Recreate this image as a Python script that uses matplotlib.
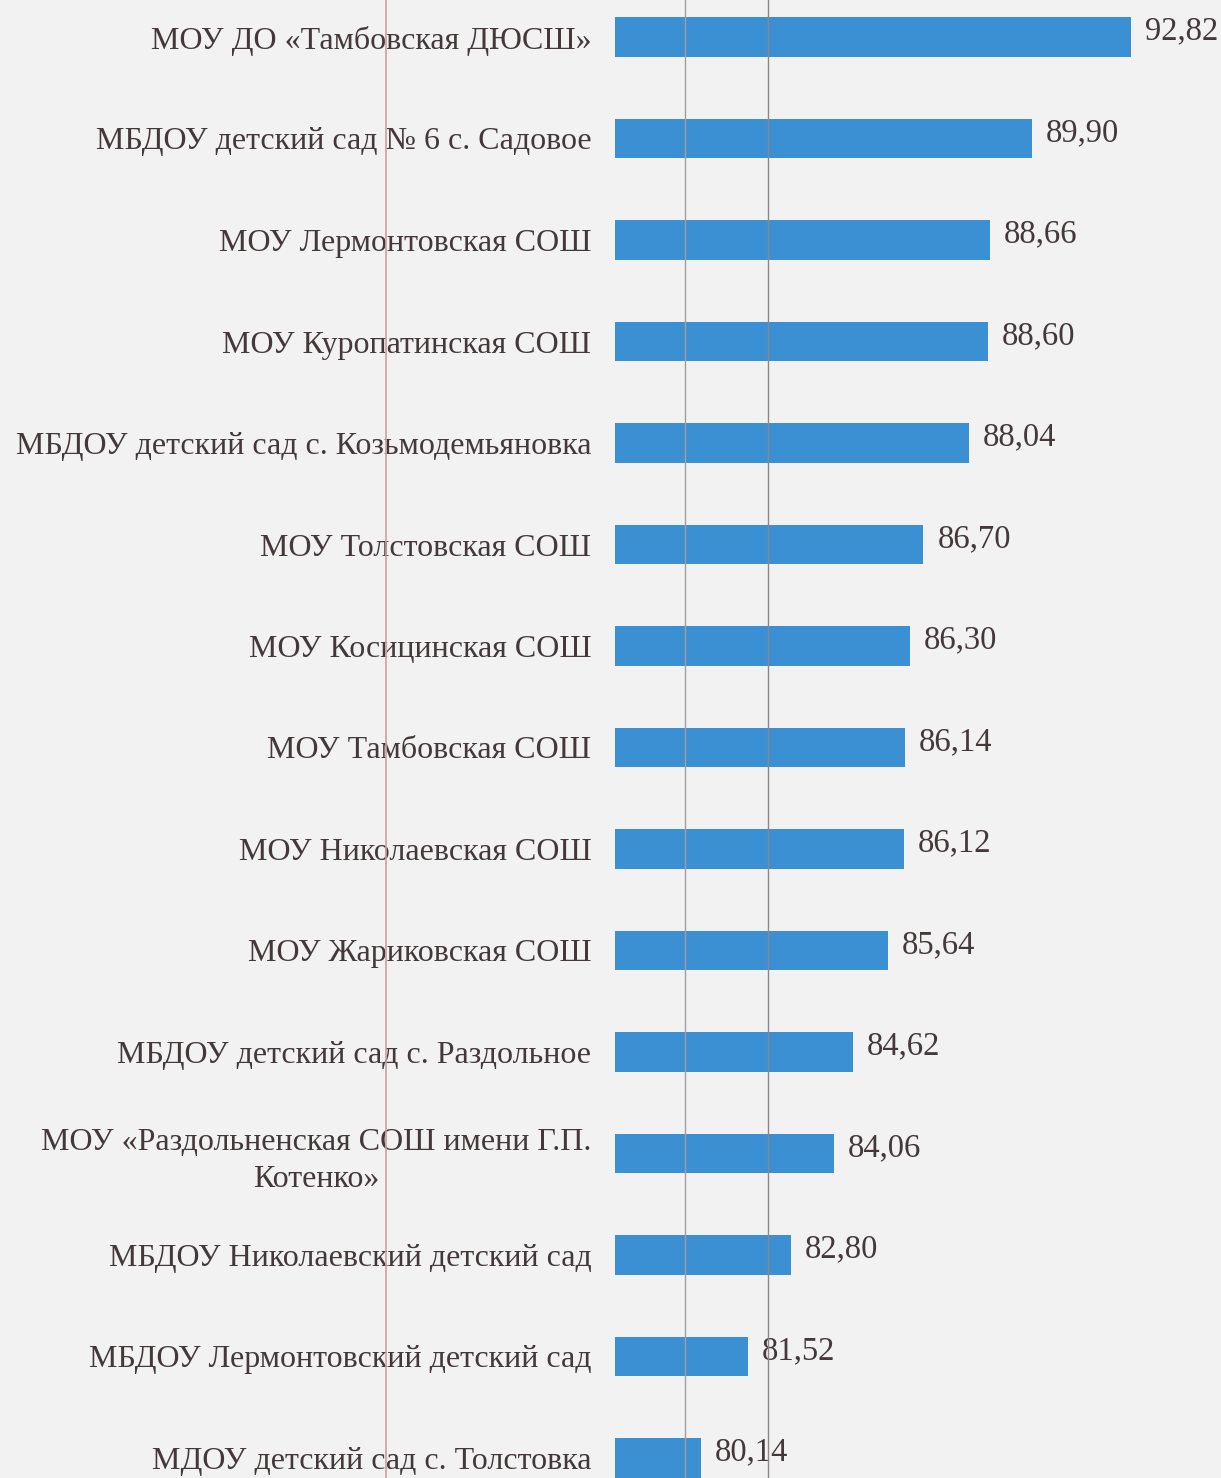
import matplotlib
matplotlib.use("Agg")
import matplotlib.pyplot as plt
from matplotlib.lines import Line2D

categories = [
    "МОУ ДО «Тамбовская ДЮСШ»",
    "МБДОУ детский сад № 6 с. Садовое",
    "МОУ Лермонтовская СОШ",
    "МОУ Куропатинская СОШ",
    "МБДОУ детский сад с. Козьмодемьяновка",
    "МОУ Толстовская СОШ",
    "МОУ Косицинская СОШ",
    "МОУ Тамбовская СОШ",
    "МОУ Николаевская СОШ",
    "МОУ Жариковская СОШ",
    "МБДОУ детский сад с. Раздольное",
    "МОУ «Раздольненская СОШ имени Г.П.\nКотенко»",
    "МБДОУ Николаевский детский сад",
    "МБДОУ Лермонтовский детский сад",
    "МДОУ детский сад с. Толстовка",
]
values = [92.82, 89.90, 88.66, 88.60, 88.04, 86.70, 86.30, 86.14, 86.12, 85.64,
          84.62, 84.06, 82.80, 81.52, 80.14]
value_labels = ["92,82", "89,90", "88,66", "88,60", "88,04", "86,70", "86,30", "86,14",
                "86,12", "85,64", "84,62", "84,06", "82,80", "81,52", "80,14"]

W, H = 1221, 1478
bg = "#f2f2f2"
text_color = "#43393b"
bar_color = "#3b8fd3"

plt.rcParams['font.family'] = ['Liberation Serif', 'DejaVu Serif']

fig = plt.figure(figsize=(W / 100, H / 100), dpi=100, facecolor=bg)
ax_left = 615 / W
ax = fig.add_axes([ax_left, 0, 1 - ax_left, 1])
ax.set_facecolor(bg)

y = list(range(len(categories)))
ax.barh(y, [v - 77.6 for v in values], left=77.6, height=0.39, color=bar_color)

ax.set_xlim(77.6, 77.6 + (W - 615) / 33.9)
ax.set_ylim((H - 37) / 101.5, -37 / 101.5)

for yi, v, lab in zip(y, values, value_labels):
    ax.annotate(lab, xy=(v, yi), xytext=(10, 4), textcoords="offset points",
                ha="left", va="center", fontsize=23.5, color=text_color)

ax.set_yticks(y)
ax.set_yticklabels(categories, fontsize=23, color=text_color, ha="right",
                   multialignment="center", linespacing=1.35)
ax.tick_params(axis="y", length=0, pad=17)
ax.tick_params(axis="x", length=0, labelbottom=False)
for s in ax.spines.values():
    s.set_visible(False)

# scan artefact lines (page margins / fold lines)
fig.add_artist(Line2D([386 / W, 386 / W], [0, 1], transform=fig.transFigure,
                      color="#c9a0a6", lw=1.2))
fig.add_artist(Line2D([685 / W, 685 / W], [0, 1], transform=fig.transFigure,
                      color="#a59d9d", lw=1.0))
fig.add_artist(Line2D([768 / W, 768 / W], [0, 1], transform=fig.transFigure,
                      color="#8e8787", lw=1.0))

fig.savefig("out.png", dpi=100, facecolor=bg)
